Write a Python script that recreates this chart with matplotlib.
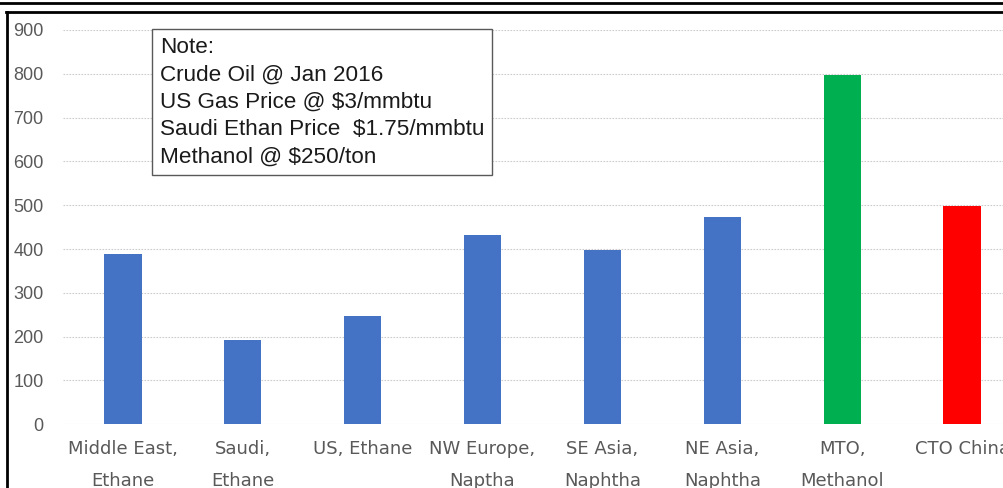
import matplotlib.pyplot as plt
from matplotlib.lines import Line2D

categories = ['Middle East,\nEthane', 'Saudi,\nEthane', 'US, Ethane', 'NW Europe,\nNaptha',
              'SE Asia,\nNaphtha', 'NE Asia,\nNaphtha', 'MTO,\nMethanol', 'CTO China']
values = [388, 193, 248, 432, 398, 473, 797, 498]
colors = ['#4472C4'] * 6 + ['#00B050', '#FF0000']
yticks = [0, 100, 200, 300, 400, 500, 600, 700, 800, 900]
note = ('Note:\nCrude Oil @ Jan 2016\nUS Gas Price @ \\$3/mmbtu\n'
        'Saudi Ethan Price  \\$1.75/mmbtu\nMethanol @ \\$250/ton')

fig = plt.figure(figsize=(10.04, 4.88), dpi=100, facecolor='white')
ax = fig.add_axes([63/1004, (488-424.3)/488, 1-63/1004, 394.3/488])

x = range(len(categories))
ax.bar(x, values, width=0.31, color=colors, zorder=3)

ax.set_xlim(-0.5, 7.35)
ax.set_ylim(0, 900)
ax.set_yticks(yticks)
ax.set_xticks(list(x))
ax.set_xticklabels(categories, fontfamily='DejaVu Sans', fontsize=13, color='#595959', linespacing=2.0)
for t in ax.get_yticklabels():
    t.set_fontfamily('Liberation Sans')
    t.set_fontsize(13)
    t.set_color('#595959')
ax.tick_params(axis='y', length=0, pad=14)
ax.tick_params(axis='x', length=0, pad=11)
ax.grid(axis='y', color='#cccccc', linestyle=(0, (1.5, 1.2)), linewidth=0.8, zorder=0)
for s in ax.spines.values():
    s.set_visible(False)

fig.text(160/1004, 1-37/488, note, fontfamily='Liberation Sans', fontsize=16.2, color='#1a1a1a',
         va='top', ha='left', linespacing=1.4,
         bbox=dict(boxstyle='square,pad=0.35', facecolor='white', edgecolor='#595959', linewidth=1))

# frame lines
fig.add_artist(Line2D([0, 1], [1-3/488, 1-3/488], color='black', linewidth=2))
fig.add_artist(Line2D([6/1004, 1], [1-11.5/488, 1-11.5/488], color='black', linewidth=2))
fig.add_artist(Line2D([7/1004, 7/1004], [0, 1-11.5/488], color='black', linewidth=2))

fig.savefig('out.png', dpi=100, facecolor='white')
